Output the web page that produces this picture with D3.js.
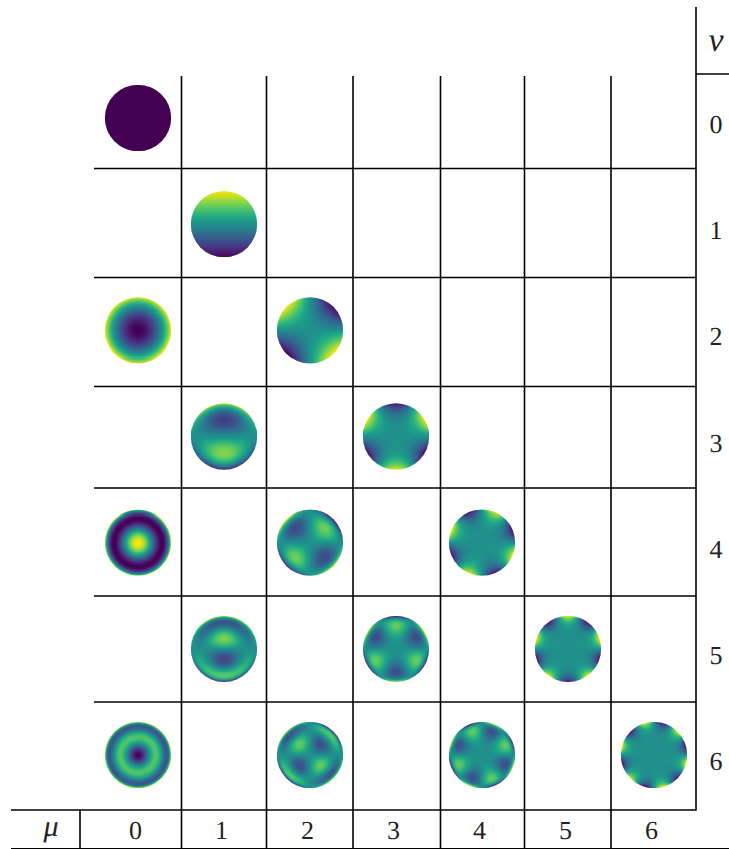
<!DOCTYPE html>
<html>
<head>
<meta charset="utf-8">
<script src="https://cdn.jsdelivr.net/npm/d3@7"></script>
<style>
html,body{margin:0;padding:0;background:#fff;}
svg{display:block;}
text{font-family:"Liberation Serif","Times New Roman",serif;fill:#222;text-rendering:geometricPrecision;}
</style>
</head>
<body>
<svg id="chart" width="729" height="849"></svg>
<script>
// ---- data ----
const muLabels = [0, 1, 2, 3, 4, 5, 6];
const nuLabels = [0, 1, 2, 3, 4, 5, 6];
// which (mu, nu) cells hold a disc
const discMu = [0, 1, 0, 2, 1, 3, 0, 2, 4, 1, 3, 5, 0, 2, 4, 6];
const discNu = [0, 1, 2, 2, 3, 3, 4, 4, 4, 5, 5, 5, 6, 6, 6, 6];
// direction (degrees, counter-clockwise from +x) of the bright rim lobes
const discPeakDeg = [0, 90, 0, 135, 90, 270, 0, 135, 67.5, 90, 270, 90, 0, 135, 67.5, 45];
// colour-field level sampled along the radius at r = 0, .1, ... 1
const profiles = [
  [0, 0, 0, 0, 0, 0, 0, 0, 0, 0, 0],
  [0, .1, .2, .3, .4, .5, .6, .7, .8, .9, 1],
  [-1, -.98, -.92, -.82, -.68, -.5, -.28, -.02, .28, .62, 1],
  [0, .01, .04, .09, .16, .25, .36, .49, .64, .81, 1],
  [0, -.2, -.38, -.52, -.61, -.63, -.55, -.37, -.06, .39, 1],
  [0, .001, .008, .027, .064, .125, .216, .343, .512, .729, 1],
  [1, .94, .77, .51, .19, -.13, -.38, -.5, -.38, .08, 1],
  [0, -.03, -.11, -.24, -.38, -.5, -.56, -.51, -.28, .19, 1],
  [0, 0, .002, .008, .026, .063, .13, .24, .41, .656, 1],
  [0, .29, .51, .6, .53, .31, -.01, -.34, -.47, -.14, 1],
  [0, 0, -.03, -.1, -.21, -.34, -.48, -.53, -.41, .04, 1],
  [0, 0, 0, .002, .01, .031, .078, .168, .328, .59, 1],
  [-1, -.88, -.57, -.15, .23, .44, .37, .03, -.37, -.33, 1],
  [0, .06, .21, .39, .51, .48, .27, -.1, -.42, -.29, 1],
  [0, 0, -.01, -.04, -.1, -.22, -.37, -.5, -.48, -.09, 1],
  [0, 0, 0, .001, .004, .016, .047, .118, .262, .531, 1]
];

// ---- layout ----
const W = 729, H = 849;
const LINE = 1.6;
const colEdges = [181.5, 266.5, 353, 440.5, 524.5, 611, 696];
const rowEdges = [168.5, 277.5, 386.5, 488, 596, 702];
const gridTop = 76, gridLeft = 94, axisY = 810, bottomY = 848.5;

const svg = d3.select("#chart");
const x = d3.scalePoint().domain(muLabels).range([138, 654]);
const y = d3.scalePoint().domain(nuLabels).range([118, 755]);
const R = 33.2, N = 66, RIM = 0.975;

// Catmull-Rom lookup through the radial samples
function profileAt(p, r) {
  const t = Math.min(r, 1) * (p.length - 1);
  const i = Math.min(Math.floor(t), p.length - 2);
  const u = t - i;
  const p0 = p[Math.max(i - 1, 0)], p1 = p[i], p2 = p[i + 1], p3 = p[Math.min(i + 2, p.length - 1)];
  return 0.5 * (2 * p1 + (p2 - p0) * u + (2 * p0 - 5 * p1 + 4 * p2 - p3) * u * u + (3 * p1 - p0 - 3 * p2 + p3) * u * u * u);
}

const defs = svg.append("defs");
const discs = svg.append("g").attr("class", "discs");
const cellIdx = d3.range(N);
const unit = d3.scaleBand().domain(cellIdx).range([-R, R]);

discMu.forEach((mu, k) => {
  const nu = discNu[k], prof = profiles[k], peak = discPeakDeg[k] * Math.PI / 180;
  const top = d3.max(prof, Math.abs);
  const ext = d3.extent(prof);
  const color = d3.scaleSequential(d3.interpolateViridis)
    .domain(mu === 0 ? (ext[0] === ext[1] ? [ext[0], ext[0] + 1] : ext) : [-top, top]);
  const id = "clip" + k;
  defs.append("clipPath").attr("id", id).append("circle").attr("r", R);
  const cells = [];
  cellIdx.forEach(i => cellIdx.forEach(j => {
    const px = unit(i) + unit.bandwidth() / 2, py = unit(j) + unit.bandwidth() / 2;
    const r = Math.hypot(px, py) / R;
    if (r > 1.04) return;
    const ang = mu === 0 ? 1 : Math.cos(mu * (Math.atan2(-py, px) - peak));
    cells.push({ i, j, v: profileAt(prof, r * RIM) * ang });
  }));
  discs.append("g")
    .attr("transform", `translate(${x(mu)},${y(nu)})`)
    .attr("clip-path", `url(#${id})`)
    .attr("shape-rendering", "crispEdges")
    .selectAll("rect").data(cells).join("rect")
    .attr("x", d => unit(d.i)).attr("y", d => unit(d.j))
    .attr("width", unit.bandwidth() + .05).attr("height", unit.bandwidth() + .05)
    .attr("fill", d => color(d.v));
});

// grid lines
const g = svg.append("g").attr("stroke", "#000").attr("stroke-width", LINE);
const seg = (x1, y1, x2, y2, sw) => g.append("line").attr("x1", x1).attr("y1", y1).attr("x2", x2).attr("y2", y2)
  .attr("stroke-width", sw || LINE);
colEdges.slice(0, -1).forEach(cx => seg(cx, gridTop, cx, bottomY));
seg(696, 7, 696, axisY + .8);
rowEdges.forEach(ry => seg(gridLeft, ry, 696, ry));
seg(11, axisY, 696, axisY);
seg(80, axisY, 80, bottomY);
seg(696, 74, W, 74);
seg(11, bottomY, W, bottomY, 1.2);

// labels
const labels = svg.append("g").attr("font-size", 26).attr("text-anchor", "middle");
labels.selectAll(".mu").data(muLabels).join("text").attr("class", "mu")
  .attr("x", d => x(d) - 2.5).attr("y", 838.5).text(d => d);
labels.selectAll(".nu").data(nuLabels).join("text").attr("class", "nu")
  .attr("x", 716).attr("y", d => y(d) + 15).text(d => d);
labels.append("text").attr("x", 716).attr("y", 51).attr("font-size", 34).attr("font-style", "italic").text("ν");
labels.append("text").attr("x", 51).attr("y", 836).attr("font-size", 30).attr("font-style", "italic").text("μ");
</script>
</body>
</html>
